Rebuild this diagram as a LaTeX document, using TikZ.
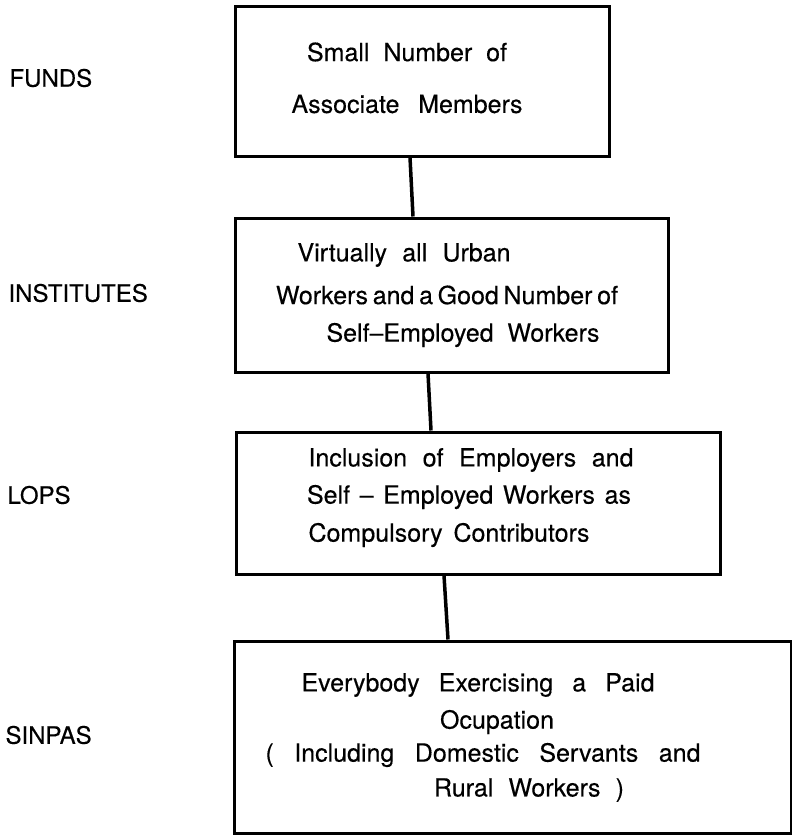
\documentclass[tikz,border=0pt]{standalone}
\usepackage{fontspec}
\setmainfont{TeX Gyre Heros}[FakeBold=0.3]
\newcommand{\wordbox}[2]{\makebox[#1][s]{#2}}
\tikzset{
    box/.style={draw, line width=3pt, inner sep=0pt, minimum width=#1},
    link/.style={line width=3.5pt},
    tag/.style={anchor=west, font=\fontsize{24}{28}\selectfont},
    txt/.style={inner sep=0pt, font=\fontsize{25}{30}\selectfont}
}

\begin{document}
\begin{tikzpicture}[x=1pt, y=-1pt]
    % Init
    \useasboundingbox (0, 0) rectangle (792, 835);
    % 1. boxes
    \node[box=374pt, minimum height=150pt] (funds) at (422, 81) {};
    \node[box=433pt, minimum height=154pt] (inst) at (451.5, 295) {};
    \node[box=484pt, minimum height=142pt] (lops) at (478, 503) {};
    \node[box=557pt, minimum height=192pt] (sinpas) at (512.5, 737) {};
    % 2. texts in boxes
    \node[txt] (f1) at (407, 52) {\wordbox{200pt}{Small Number of}};
    \node[txt] (f2) at (407, 104) {\wordbox{231pt}{Associate Members}};
    \node[txt] (i1) at (404, 255) {\wordbox{213pt}{Virtually all Urban}};
    \node[txt] (i2) at (447, 295) {\wordbox{342pt}{Workers and a Good Number of}};
    \node[txt] (i3) at (463, 335) {\wordbox{273pt}{Self–Employed Workers}};
    \node[txt] (l1) at (471, 460) {\wordbox{325pt}{Inclusion of Employers and}};
    \node[txt] (l2) at (469, 497) {\wordbox{324pt}{Self – Employed Workers as}};
    \node[txt] (l3) at (449, 535) {\wordbox{281pt}{Compulsory Contributors}};
    \node[txt] (s1) at (478, 685) {\wordbox{353pt}{Everybody Exercising a Paid}};
    \node[txt] (s2) at (497, 722) {Ocupation};
    \node[txt] (s3) at (483, 755) {\wordbox{435pt}{( Including Domestic Servants and}};
    \node[txt] (s4) at (529, 790) {\wordbox{190pt}{Rural Workers )}};
    % 3. labels on the left
    \node[tag] (lfunds) at (6, 78) {FUNDS};
    \node[tag] (linst) at (5, 293) {INSTITUTES};
    \node[tag] (llops) at (4, 495) {LOPS};
    \node[tag] (lsinpas) at (2, 735) {SINPAS};
    % 4. links
    \draw[link] ([xshift=-12pt]funds.south) -- ([xshift=-38.5pt]inst.north);
    \draw[link] ([xshift=-23.5pt]inst.south) -- ([xshift=-47pt]lops.north);
    \draw[link] ([xshift=-34pt]lops.south) -- ([xshift=-64.5pt]sinpas.north);
\end{tikzpicture}
\end{document}
